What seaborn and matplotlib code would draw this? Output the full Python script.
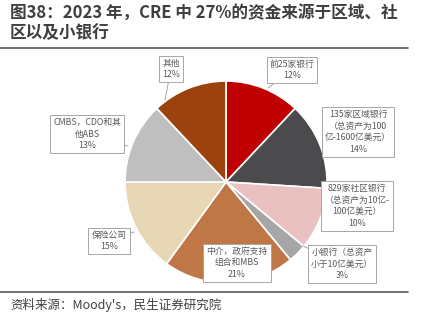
import matplotlib
matplotlib.use("Agg")
import matplotlib.pyplot as plt
import seaborn as sns

sns.set_theme(style="white")
plt.rcParams['font.family'] = ['Noto Sans CJK SC', 'DejaVu Sans']

# ---- data ----
categories = ["前25家银行", "135家区域银行\n（总资产为100\n亿-1600亿美元）",
              "829家社区银行\n（总资产为10亿-\n100亿美元）", "小银行（总资产\n小于10亿美元）",
              "中介，政府支持\n组合和MBS", "保险公司", "CMBS，CDO和其\n他ABS", "其他"]
values = [12, 14, 10, 3, 21, 15, 13, 12]
colors = ["#C00000", "#4B4B4D", "#E9C1C1", "#A6A6A6", "#BF7748", "#E8D7B4", "#BFBFBF", "#9B420F"]
title = "图38：2023 年，CRE 中 27%的资金来源于区域、社\n区以及小银行"
source = "资料来源：Moody's，民生证券研究院"

# label box centres (pixels) and pointer targets (pixels)
label_pos = [(292, 70), (358, 132), (357, 206), (342, 264), (237, 263), (109, 241), (87, 134), (171, 69)]
pointer = [(268, 88), None, None, (303, 246), None, (134, 232), (128, 146), (165, 100)]

W, H = 421, 326
cx, cy, R = 226, 182, 101

fig = plt.figure(figsize=(W / 100, H / 100), dpi=100)
fig.patch.set_facecolor("white")
ax = fig.add_axes([0, 0, 1, 1])


def px(x, y):
    return (x - cx) / R, (cy - y) / R


ax.pie(values, colors=colors, startangle=90, counterclock=False, radius=1,
       wedgeprops=dict(edgecolor="white", linewidth=1.2))
ax.set_aspect("auto")
ax.set_xlim((0 - cx) / R, (W - cx) / R)
ax.set_ylim((cy - H) / R, (cy - 0) / R)
ax.axis("off")

for cat, v, (lx, ly), ptr in zip(categories, values, label_pos, pointer):
    txt = f"{cat}\n{v}%"
    x, y = px(lx, ly)
    if ptr is not None:
        ax.annotate("", xy=px(*ptr), xytext=(x, y),
                    arrowprops=dict(arrowstyle="-", color="#A6A6A6", lw=0.7,
                                    shrinkA=0, shrinkB=0), zorder=3)
    ax.text(x, y, txt, ha="center", va="center", fontsize=6.3, color="#595959",
            linespacing=1.35, zorder=4,
            bbox=dict(boxstyle="square,pad=0.35", facecolor="white", edgecolor="#A6A6A6", linewidth=0.7))

fig.text(10 / W, 1 - 5 / H, title, ha="left", va="top", fontsize=12, fontweight="bold",
         color="#3F3F3F", linespacing=1.05)
fig.add_artist(plt.Line2D([0, 408 / W], [1 - 48 / H, 1 - 48 / H], color="#595959", lw=1.2))
fig.add_artist(plt.Line2D([0, 408 / W], [1 - 292 / H, 1 - 292 / H], color="#595959", lw=1.2))
fig.text(10 / W, 1 - 305 / H, source, ha="left", va="center", fontsize=9, color="#404040")

fig.savefig("out.png", dpi=100, facecolor="white")
